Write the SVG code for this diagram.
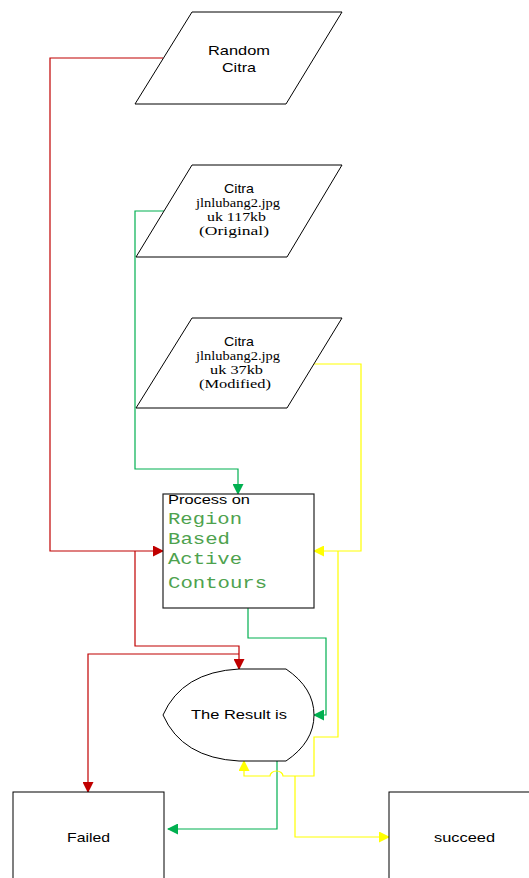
<svg xmlns="http://www.w3.org/2000/svg" width="529" height="878" viewBox="0 0 529 878">
<style>
.shape{fill:#fff;stroke:#000;stroke-width:1}
.t{font-family:"Liberation Sans",Arial,sans-serif;font-size:13.5px;fill:#000;text-anchor:start}
.s{font-family:"Liberation Serif","Times New Roman",serif;font-size:13px;fill:#000}
.m{font-family:"Liberation Mono","Courier New",monospace;font-size:16px;fill:#4EA24E}
.c{fill:none;stroke-width:1.2}
.r{stroke:#C00000}
.g{stroke:#00B050}
.y{stroke:#FFFF00}
</style>
<defs>
<marker id="ar" markerWidth="11" markerHeight="11" refX="10" refY="5.5" orient="auto" markerUnits="userSpaceOnUse"><path d="M0,0 L11,5.5 L0,11 Z" fill="#C00000"/></marker>
<marker id="ag" markerWidth="11" markerHeight="11" refX="10" refY="5.5" orient="auto" markerUnits="userSpaceOnUse"><path d="M0,0 L11,5.5 L0,11 Z" fill="#00B050"/></marker>
<marker id="ay" markerWidth="11" markerHeight="11" refX="10" refY="5.5" orient="auto" markerUnits="userSpaceOnUse"><path d="M0,0 L11,5.5 L0,11 Z" fill="#FFFF00"/></marker>
</defs>
<rect width="529" height="878" fill="#fff"/>
<g id="connectors">
<path class="c r" d="M163,58 H50 V551 H163" marker-end="url(#ar)"/>
<path class="c r" d="M135,551 V646 H239 V669" marker-end="url(#ar)"/>
<path class="c r" d="M239,654 H88 V792" marker-end="url(#ar)"/>
<path class="c g" d="M164,211 H135 V469 H238 V494" marker-end="url(#ag)"/>
<path class="c g" d="M248,608 V638 H326 V715 H314" marker-end="url(#ag)"/>
<path class="c g" d="M277,761 V829 H168" marker-end="url(#ag)"/>
<path class="c y" d="M314,364 H361 V551 H314" marker-end="url(#ay)"/>
<path class="c y" d="M338,551 V737 H314 V776 H283 A6.5,5 0 0 0 270,776 H244 V761" marker-end="url(#ay)"/>
<path class="c y" d="M295,776 V837 H389" marker-end="url(#ay)"/>
</g>
<g id="random-citra">
<polygon class="shape" points="192,12 342,12 286,104 135,104"/>
<text class="t" x="208" y="55" textLength="62" lengthAdjust="spacingAndGlyphs">Random</text>
<text class="t" x="222" y="72" textLength="34" lengthAdjust="spacingAndGlyphs">Citra</text>
</g>
<g id="citra-original">
<polygon class="shape" points="192,165 342,165 287,257 136,257"/>
<text class="t" x="224" y="193" font-size="12.5" textLength="30" lengthAdjust="spacingAndGlyphs">Citra</text>
<text class="s" x="196" y="207" textLength="84" lengthAdjust="spacingAndGlyphs">jlnlubang2.jpg</text>
<text class="s" x="207" y="221" textLength="59" lengthAdjust="spacingAndGlyphs">uk 117kb</text>
<text class="s" x="199" y="235" textLength="70" lengthAdjust="spacingAndGlyphs">(Original)</text>
</g>
<g id="citra-modified">
<polygon class="shape" points="192,318 342,318 287,408 136,408"/>
<text class="t" x="224" y="346" font-size="12.5" textLength="30" lengthAdjust="spacingAndGlyphs">Citra</text>
<text class="s" x="196" y="360" textLength="84" lengthAdjust="spacingAndGlyphs">jlnlubang2.jpg</text>
<text class="s" x="210" y="374" textLength="53" lengthAdjust="spacingAndGlyphs">uk 37kb</text>
<text class="s" x="199" y="388" textLength="72" lengthAdjust="spacingAndGlyphs">(Modified)</text>
</g>
<g id="process">
<rect x="163" y="494" width="151" height="114" fill="#fff" stroke="#222" stroke-width="1.2"/>
<text class="t" x="168" y="504" textLength="82" lengthAdjust="spacingAndGlyphs">Process on</text>
<text class="m" x="168" y="524" textLength="74" lengthAdjust="spacingAndGlyphs">Region</text>
<text class="m" x="168" y="544" textLength="62" lengthAdjust="spacingAndGlyphs">Based</text>
<text class="m" x="168" y="564" textLength="74" lengthAdjust="spacingAndGlyphs">Active</text>
<text class="m" x="168" y="588" textLength="99" lengthAdjust="spacingAndGlyphs">Contours</text>
</g>
<g id="result">
<path class="shape" d="M239,669 H286 Q314,688 314,715 Q314,742 286,761 H239 Q182,758 163,715 Q182,672 239,669 Z"/>
<text class="t" x="191" y="719" textLength="96" lengthAdjust="spacingAndGlyphs">The Result is</text>
</g>
<g id="failed">
<rect class="shape" x="13" y="792" width="151" height="100"/>
<text class="t" x="67" y="842" textLength="43" lengthAdjust="spacingAndGlyphs">Failed</text>
</g>
<g id="succeed">
<rect class="shape" x="389" y="792" width="151" height="100"/>
<text class="t" x="434" y="842" textLength="61" lengthAdjust="spacingAndGlyphs">succeed</text>
</g>
</svg>
